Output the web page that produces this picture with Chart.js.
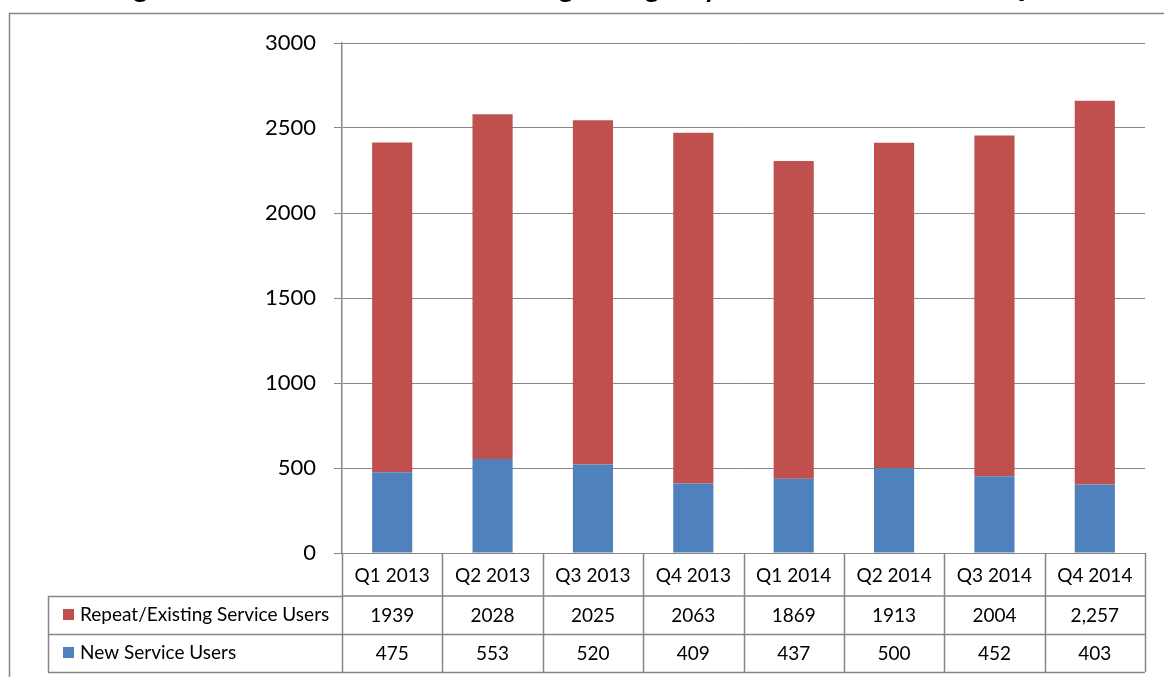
<!DOCTYPE html>
<html>
<head>
<meta charset="utf-8">
<script src="https://cdn.jsdelivr.net/npm/chart.js@4.4.1/dist/chart.umd.min.js"></script>
<style>
  html, body { margin: 0; padding: 0; background: #fff; }
  #wrap { width: 1164px; height: 677px; position: relative; }
</style>
</head>
<body>
<div id="wrap"><canvas id="chart"></canvas></div>
<script>
// chart data
const categories = ["Q1 2013", "Q2 2013", "Q3 2013", "Q4 2013", "Q1 2014", "Q2 2014", "Q3 2014", "Q4 2014"];
const repeatUsers = [1939, 2028, 2025, 2063, 1869, 1913, 2004, 2257];
const newUsers = [475, 553, 520, 409, 437, 500, 452, 403];
// as printed in the data table
const repeatText = ["1939", "2028", "2025", "2063", "1869", "1913", "2004", "2,257"];
const newText = ["475", "553", "520", "409", "437", "500", "452", "403"];
const yTicks = [0, 500, 1000, 1500, 2000, 2500, 3000];
const titleText = "Figure 3: Number of Individuals using Emergency Accommodation each Quarter";

const RED = "#C0504D";
const BLUE = "#4F81BD";
const LINE = "#868686";
const FONT = "Lato, 'Open Sans', sans-serif";

// draws the frame, the clipped title and the data table under the plot
const tablePlugin = {
    id: "dataTable",
    afterDraw(chart) {
        const ctx = chart.ctx;
        const area = chart.chartArea;
        const x = chart.scales.x;
        const half = (x.getPixelForValue(1) - x.getPixelForValue(0)) / 2;
        const rows = [area.bottom, 596, 634, 672];
        const left = 48;

        ctx.save();
        // outer frame
        ctx.strokeStyle = LINE;
        ctx.lineWidth = 1.5;
        ctx.strokeRect(9.5, 13.5, 1200, 700);

        // title, mostly above the visible page (only descenders show)
        ctx.fillStyle = "#000";
        ctx.font = "bold 28px " + FONT;
        ctx.textAlign = "center";
        ctx.textBaseline = "alphabetic";
        ctx.fillText(titleText, 605, -3);

        // table grid
        ctx.lineWidth = 1.5;
        ctx.beginPath();
        for (let i = 0; i <= categories.length; i++) {
            const px = Math.round(x.getPixelForValue(i) - half) + 0.5;
            ctx.moveTo(px, rows[0]);
            ctx.lineTo(px, rows[3]);
        }
        ctx.moveTo(area.left, rows[1]); ctx.lineTo(area.right, rows[1]);
        ctx.moveTo(left, rows[1] + 0.5); ctx.lineTo(area.left, rows[1] + 0.5);
        ctx.moveTo(left, rows[2] + 0.5); ctx.lineTo(area.right, rows[2] + 0.5);
        ctx.moveTo(left, rows[3] + 0.5); ctx.lineTo(area.right, rows[3] + 0.5);
        ctx.moveTo(left + 0.5, rows[1]); ctx.lineTo(left + 0.5, rows[3]);
        ctx.stroke();

        // cell text
        ctx.fillStyle = "#000";
        ctx.font = "19px " + FONT;
        ctx.textBaseline = "middle";
        ctx.textAlign = "center";
        categories.forEach((c, i) => {
            const cx = x.getPixelForValue(i);
            ctx.fillText(c, cx, (rows[0] + rows[1]) / 2 + 1);
            ctx.fillText(repeatText[i], cx, (rows[1] + rows[2]) / 2 + 1);
            ctx.fillText(newText[i], cx, (rows[2] + rows[3]) / 2 + 1);
        });

        // row labels with colour keys
        const series = [
            { label: chart.data.datasets[1].label, color: RED, y: (rows[1] + rows[2]) / 2 },
            { label: chart.data.datasets[0].label, color: BLUE, y: (rows[2] + rows[3]) / 2 }
        ];
        ctx.textAlign = "left";
        series.forEach(s => {
            ctx.fillStyle = s.color;
            ctx.fillRect(63, s.y - 6, 11, 11);
            ctx.fillStyle = "#000";
            ctx.fillText(s.label, 80, s.y);
        });
        ctx.restore();
    }
};

const ctx = document.getElementById("chart").getContext("2d");

new Chart(ctx, {
    type: "bar",
    data: {
        labels: categories,
        datasets: [
            {
                label: "New Service Users",
                data: newUsers,
                backgroundColor: BLUE,
                borderWidth: 0
            },
            {
                label: "Repeat/Existing Service Users",
                data: repeatUsers,
                backgroundColor: RED,
                borderWidth: 0
            }
        ]
    },
    options: {
        responsive: true,
        maintainAspectRatio: false,
        animation: false,
        devicePixelRatio: 1,
        datasets: {
            bar: { categoryPercentage: 1.0, barPercentage: 0.4 }
        },
        layout: {
            padding: { left: 0, right: 19, top: 43, bottom: 124 }
        },
        scales: {
            x: {
                display: false,
                stacked: true
            },
            y: {
                stacked: true,
                min: 0,
                max: 3000,
                afterFit: scale => { scale.width = 342; },
                afterBuildTicks: scale => { scale.ticks = yTicks.map(v => ({ value: v })); },
                ticks: {
                    color: "#000",
                    padding: 18,
                    font: { family: FONT, size: 22 },
                    callback: v => String(v)
                },
                grid: {
                    color: LINE,
                    lineWidth: 1,
                    tickLength: 8
                },
                border: { display: true, color: LINE, width: 1.5 }
            }
        },
        plugins: {
            legend: { display: false },
            title: { display: false },
            tooltip: { enabled: false }
        }
    },
    plugins: [tablePlugin]
});
</script>
</body>
</html>
